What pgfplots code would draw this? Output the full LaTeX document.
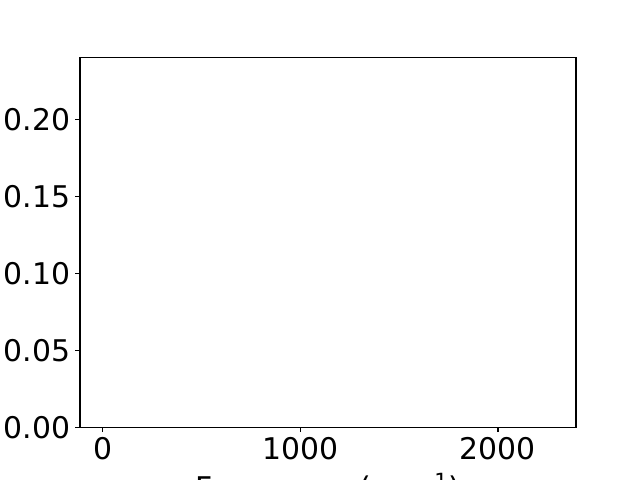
\documentclass[border=0pt]{standalone}
\usepackage{fontspec}
\setmainfont{DejaVu Sans}
\usepackage{pgfplots}
\pgfplotsset{compat=1.18}
\begin{document}
\begin{tikzpicture}
\clip (0,0) rectangle (460.8pt,345.6pt);
\begin{axis}[
  at={(57.6pt,38.016pt)}, anchor=south west,
  width=357.12pt, height=266.112pt, scale only axis,
  xmin=-115, xmax=2395, ymin=0, ymax=0.24,
  xtick={0,1000,2000}, ytick={0,0.05,0.1,0.15,0.2},
  tick align=outside, major tick length=3.5pt,
  xtick pos=bottom, ytick pos=left,
  every tick/.style={black, line width=0.8pt},
  axis line style={line width=0.8pt},
  minor tick num=0,
  scaled x ticks=false, scaled y ticks=false,
  /pgf/number format/assume math mode=true,
  ticklabel style={font=\fontsize{21.5}{25}\selectfont},
  xticklabel style={/pgf/number format/1000 sep={}},
  yticklabel style={/pgf/number format/.cd, fixed, fixed zerofill, precision=2},
  xlabel={Frequency (cm\textsuperscript{−1})},
  xlabel style={font=\fontsize{21.5}{25}\selectfont, at={(axis description cs:0.5,0)}, anchor=base, inner sep=0pt, yshift=-51.5pt},
]
\addplot[draw=none] coordinates {(0,0)};
\end{axis}
\end{tikzpicture}
\end{document}
